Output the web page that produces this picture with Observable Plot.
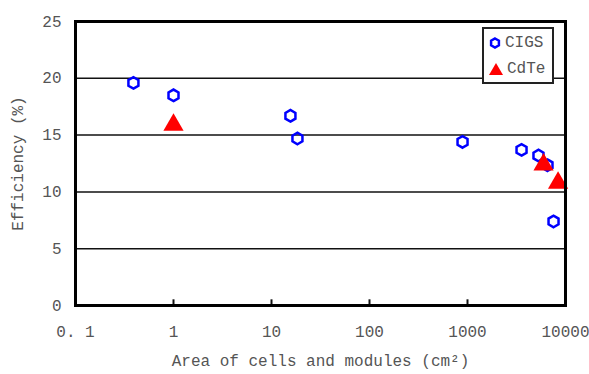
<!DOCTYPE html>
<html>
<head>
<meta charset="utf-8">
<script src="https://cdn.jsdelivr.net/npm/d3@7"></script>
<script src="https://cdn.jsdelivr.net/npm/@observablehq/plot@0.6"></script>
<style>
  html, body { margin: 0; padding: 0; background: #fff; }
  #wrap { position: relative; width: 589px; height: 374px; }
  #legend { position: absolute; left: 482px; top: 27px; width: 68px; height: 53px;
    border: 2px solid #222; background: #fff; font-family: "Liberation Mono", monospace;
    font-size: 16px; color: #555; }
  #legend .row { position: absolute; left: 4px; height: 20px; display: flex; align-items: center; }
  #legend svg { margin-right: 3px; }
</style>
</head>
<body>
<div id="wrap"></div>
<script>
// Data
const cigsArea = [0.39, 1.0, 15.6, 18.4, 890, 3560, 5300, 6550, 7550];
const cigsEff  = [19.6, 18.5, 16.7, 14.7, 14.4, 13.7, 13.2, 12.35, 7.4];
const cdteArea = [1.0, 5970, 8400];
const cdteEff  = [15.9, 12.4, 10.8];
const xTickValues = [0.1, 1, 10, 100, 1000, 10000];
const xTickLabels = ["0. 1", "1", "10", "100", "1000", "10000"];
const yTickValues = [0, 5, 10, 15, 20, 25];
const gridValues = [5, 10, 15, 20];
const innerTicks = [1, 10, 100, 1000];
const seriesNames = ["CIGS", "CdTe"];

const cigs = cigsArea.map((a, i) => ({area: a, eff: cigsEff[i]}));
const cdte = cdteArea.map((a, i) => ({area: a, eff: cdteEff[i]}));

const font = "Liberation Mono, monospace";
const chart = Plot.plot({
  width: 589,
  height: 374,
  marginLeft: 75,
  marginRight: 24,
  marginTop: 21,
  marginBottom: 69,
  style: {fontFamily: font, fontSize: "16px", color: "#555", background: "#fff"},
  x: {type: "log", domain: [0.1, 10000]},
  y: {domain: [0, 25]},
  marks: [
    Plot.ruleY(gridValues, {stroke: "#111", strokeWidth: 1.5}),
    Plot.ruleX(innerTicks, {y1: 0, y2: 0.5, stroke: "#111", strokeWidth: 2}),
    Plot.axisX({ticks: xTickValues, tickFormat: (d) => xTickLabels[xTickValues.indexOf(d)],
      tickSize: 0, tickPadding: 20, fill: "#555", fontSize: 16,
      label: "Area of cells and modules (cm²)", labelAnchor: "center", labelArrow: "none", labelOffset: 60}),
    Plot.axisY({ticks: yTickValues, tickSize: 0, tickPadding: 14, fill: "#555", fontSize: 16,
      label: "Efficiency (%)", labelAnchor: "center", labelArrow: "none", labelOffset: 64}),
    Plot.dot(cigs, {x: "area", y: "eff", symbol: "hexagon", r: 5, stroke: "#0000ff", strokeWidth: 2.5, fill: "none"}),
    Plot.dot(cdte, {x: "area", y: "eff", symbol: "triangle", r: 7.5, fill: "#ff0000", stroke: "none"}),
    Plot.frame({stroke: "#000", strokeWidth: 3})
  ]
});
const wrap = document.getElementById("wrap");
wrap.appendChild(chart);

// Legend
const leg = document.createElement("div");
leg.id = "legend";
const symbols = [
  `<svg width="14" height="14"><path d="M7,2.5 L10.9,4.75 L10.9,9.25 L7,11.5 L3.1,9.25 L3.1,4.75Z" fill="none" stroke="#0000ff" stroke-width="2.5"/></svg>`,
  `<svg width="16" height="14"><path d="M8,1 L15,13 L1,13Z" fill="#ff0000"/></svg>`
];
seriesNames.forEach((name, i) => {
  const row = document.createElement("div");
  row.className = "row";
  row.style.top = (4 + i * 26) + "px";
  row.innerHTML = symbols[i] + "<span>" + name + "</span>";
  leg.appendChild(row);
});
wrap.appendChild(leg);
</script>
</body>
</html>
